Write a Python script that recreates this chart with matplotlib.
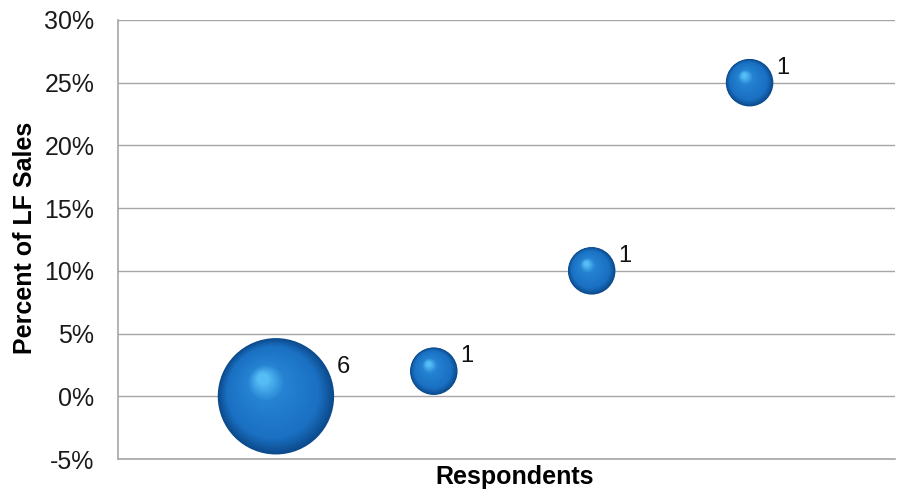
import matplotlib
matplotlib.use("Agg")
import matplotlib.pyplot as plt
import matplotlib.transforms as mtransforms
import numpy as np

plt.rcParams['font.family'] = ['Liberation Sans', 'DejaVu Sans']

# data
respondent_pos = [1, 2, 3, 4]
pct_lf_sales = [0.0, 2.0, 10.0, 25.0]
respondents = [6, 1, 1, 1]
bubble_labels = ["6", "1", "1", "1"]

SIZE_PER_UNIT = 1170  # points^2 per respondent
DPI = 100


def mix(c1, c2, t):
    c1 = np.array(matplotlib.colors.to_rgb(c1))
    c2 = np.array(matplotlib.colors.to_rgb(c2))
    return tuple(c1 + (c2 - c1) * t)


def draw_sphere(ax, x, y, s, n=45):
    # fake 3d shading: stacked circles shrinking toward an upper-left highlight
    r_pts = np.sqrt(s) / 2
    hx, hy = -0.22 * r_pts, 0.3 * r_pts
    edge, mid, mid2, light = "#0c4a8c", "#1a70c2", "#2582d2", "#55bcf5"
    for i in range(n):
        t = i / (n - 1)
        frac = 1 - t * 0.9
        if t < 0.22:
            col = mix(edge, mid, t / 0.22)
        elif t < 0.75:
            col = mix(mid, mid2, (t - 0.22) / 0.53)
        else:
            col = mix(mid2, light, (t - 0.75) / 0.25)
        tr = mtransforms.offset_copy(ax.transData, fig=ax.figure,
                                     x=hx * t, y=hy * t, units='points')
        ax.scatter([x], [y], s=s * frac ** 2, color=col, edgecolors='none',
                   transform=tr, zorder=3 + i * 0.01)


fig = plt.figure(figsize=(8.97, 4.95), dpi=DPI)
ax = fig.add_axes([0.1316, 0.0727, 0.866, 0.887])

for x, y, n, lab in zip(respondent_pos, pct_lf_sales, respondents, bubble_labels):
    s = n * SIZE_PER_UNIT
    draw_sphere(ax, x, y, s)
    r_pts = np.sqrt(s) / 2
    ax.annotate(lab, (x, y), xytext=(r_pts + 2, 0.4 * r_pts + 4),
                textcoords='offset points', fontsize=17, ha='left', va='center',
                color='#111111', zorder=10)

ax.set_xlim(0, 4.92)
ax.set_ylim(-5, 30)
ax.set_yticks(np.arange(-5, 31, 5))
ax.set_yticklabels([f"{v}%" for v in range(-5, 31, 5)], fontsize=18)
ax.set_xticks([])
ax.yaxis.grid(True, color='#a6a6a6', linewidth=1.0)
ax.set_axisbelow(True)
ax.tick_params(axis='y', length=0, pad=17, labelcolor='#1a1a1a')

for side in ['top', 'right']:
    ax.spines[side].set_visible(False)
for side in ['left', 'bottom']:
    ax.spines[side].set_color('#a6a6a6')
    ax.spines[side].set_linewidth(1.2)

ax.set_ylabel("Percent of LF Sales", fontsize=18, fontweight='bold')
ax.yaxis.set_label_coords(37 / 897, 1 - 238 / 495, transform=fig.transFigure)
ax.set_xlabel("Respondents", fontsize=18, fontweight='bold')
ax.xaxis.set_label_coords(515 / 897, 1 - 465 / 495, transform=fig.transFigure)

fig.savefig("out.png", dpi=DPI)
